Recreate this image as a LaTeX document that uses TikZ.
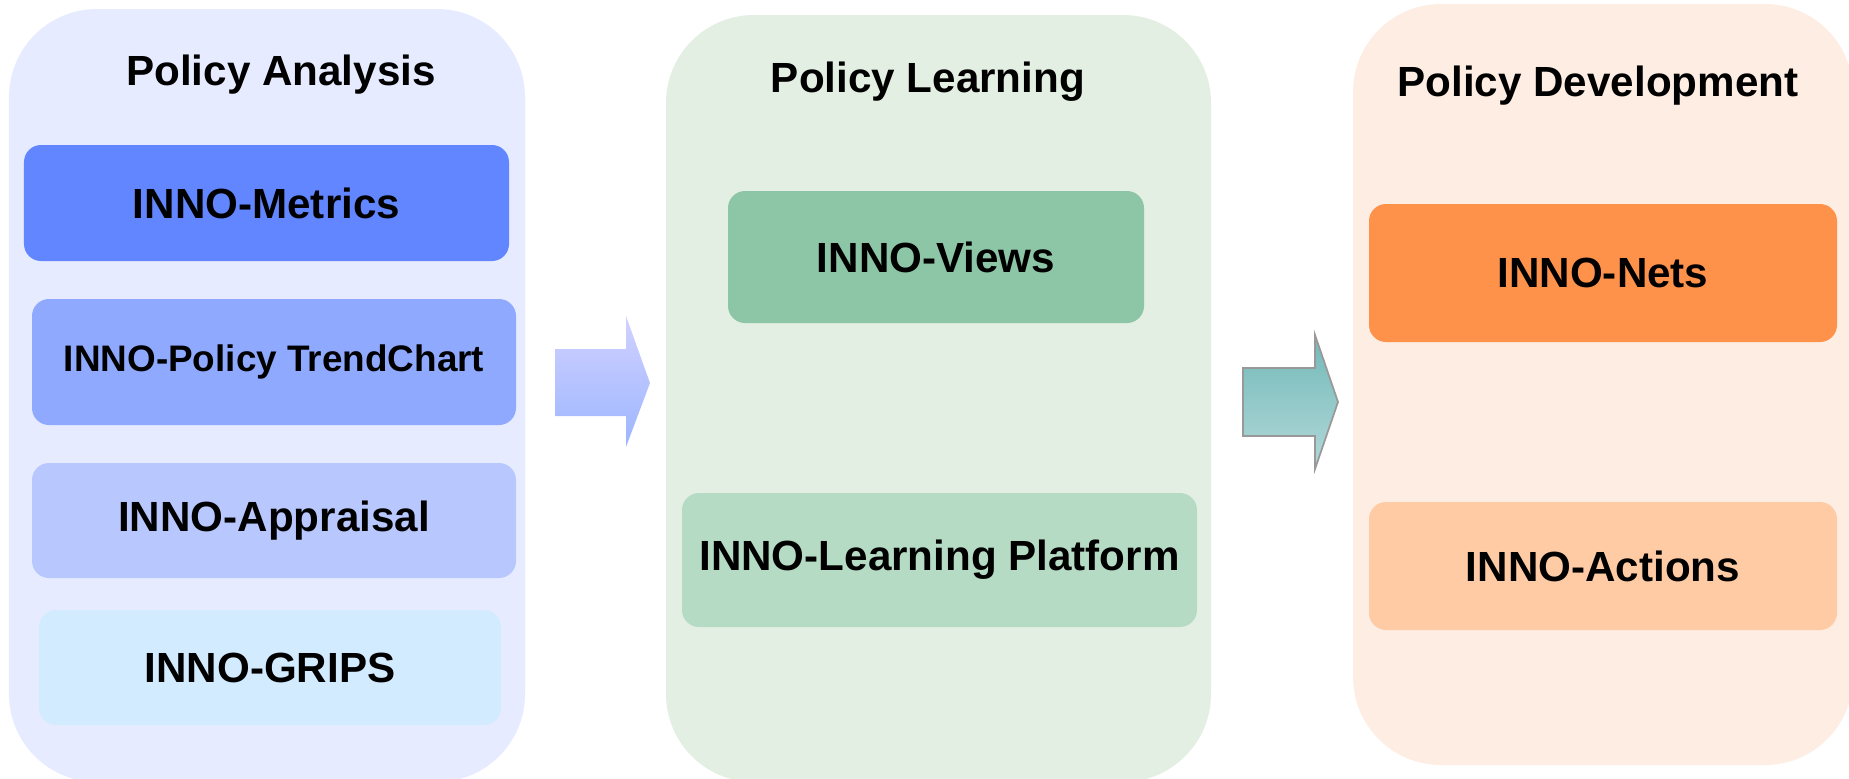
\documentclass[tikz,border=0pt]{standalone}
\usepackage{fontspec}
\setmainfont{Liberation Sans}
\usetikzlibrary{positioning}

\definecolor{analysisbg}{HTML}{E6EBFF}
\definecolor{learningbg}{HTML}{E2EFE2}
\definecolor{developbg}{HTML}{FDEDE3}
\definecolor{metricsfill}{HTML}{6186FF}
\definecolor{trendfill}{HTML}{8FA9FF}
\definecolor{appraisalfill}{HTML}{B8C8FF}
\definecolor{gripsfill}{HTML}{D2EBFF}
\definecolor{viewsfill}{HTML}{8DC6A6}
\definecolor{platformfill}{HTML}{B5DBC4}
\definecolor{netsfill}{HTML}{FF924A}
\definecolor{actionsfill}{HTML}{FFCBA5}

\begin{document}
\begin{tikzpicture}[
    panel/.style={rectangle, rounded corners=0.88cm, inner sep=0pt},
    tool/.style={rectangle, rounded corners=0.17cm, inner sep=0pt, font=\fontsize{12}{14}\selectfont\bfseries},
    paneltitle/.style={font=\fontsize{12}{14}\selectfont\bfseries}
]
    \clip (0, 0) rectangle (18.49, 7.78);

    % Panels
    \node[panel, fill=analysisbg, minimum width=5.16cm, minimum height=7.73cm] (analysis) at (2.67, 3.825) {};
    \node[panel, fill=learningbg, minimum width=5.45cm, minimum height=7.67cm] (learning) at (9.385, 3.795) {};
    \node[panel, fill=developbg, minimum width=5.00cm, minimum height=7.61cm] (develop) at (16.03, 3.935) {};

    \node[paneltitle] (analysistitle) at (2.81, 7.03) {Policy Analysis};
    \node[paneltitle] (learningtitle) at (9.28, 6.96) {Policy Learning};
    \node[paneltitle] (developtitle) at (15.98, 6.92) {Policy Development};

    % Policy analysis tools
    \node[tool, fill=metricsfill, minimum width=4.85cm, minimum height=1.16cm] (metrics) at (2.665, 5.75) {INNO-Metrics};
    \node[tool, fill=trendfill, minimum width=4.84cm, minimum height=1.26cm, font=\fontsize{10.5}{12}\selectfont\bfseries] (trendchart) at (2.74, 4.16) {INNO-Policy TrendChart};
    \node[tool, fill=appraisalfill, minimum width=4.84cm, minimum height=1.15cm] (appraisal) at (2.74, 2.575) {INNO-Appraisal};
    \node[tool, fill=gripsfill, minimum width=4.62cm, minimum height=1.15cm] (grips) at (2.70, 1.105) {INNO-GRIPS};

    % Policy learning tools
    \node[tool, fill=viewsfill, minimum width=4.16cm, minimum height=1.32cm] (views) at (9.36, 5.21) {INNO-Views};
    \node[tool, fill=platformfill, minimum width=5.15cm, minimum height=1.34cm] (platform) at (9.395, 2.18) {INNO-Learning Platform};

    % Policy development tools
    \node[tool, fill=netsfill, minimum width=4.68cm, minimum height=1.38cm] (nets) at (16.03, 5.05) {INNO-Nets};
    \node[tool, fill=actionsfill, minimum width=4.68cm, minimum height=1.28cm] (actions) at (16.03, 2.12) {INNO-Actions};

    % Block arrows
    \shade[top color=blue!18!white, bottom color=blue!32!white!90!cyan]
        (5.55, 4.29) -- (6.26, 4.29) -- (6.26, 4.62) -- (6.50, 3.95) -- (6.26, 3.31) -- (6.26, 3.62) -- (5.55, 3.62) -- cycle;
    \shade[top color=teal!55!white, bottom color=teal!30!white, draw=gray!80, line width=0.5pt]
        (12.43, 4.10) -- (13.15, 4.10) -- (13.15, 4.43) -- (13.38, 3.76) -- (13.15, 3.09) -- (13.15, 3.42) -- (12.43, 3.42) -- cycle;
\end{tikzpicture}
\end{document}
